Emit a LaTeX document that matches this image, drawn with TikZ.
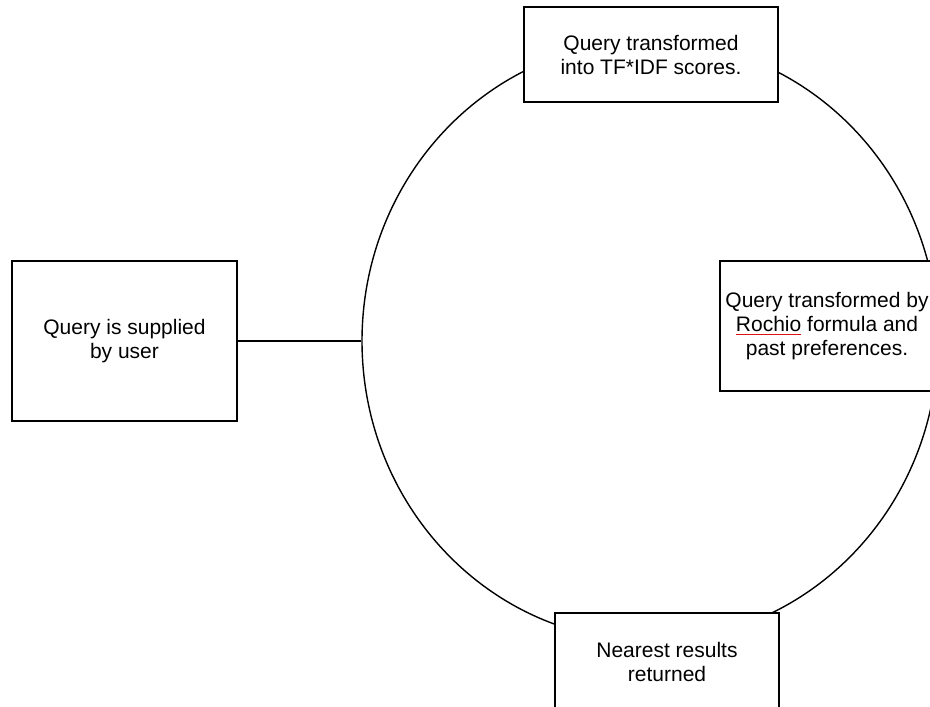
\documentclass[tikz,border=0pt]{standalone}
\usepackage{xcolor}
\usepackage{fontspec}
\setmainfont{Liberation Sans}
\usepackage{tikz}
\usetikzlibrary{shapes.geometric}
\definecolor{bg}{HTML}{FFFFFF}
\definecolor{ink}{HTML}{000000}
\definecolor{squig}{HTML}{E01010}
\tikzset{
  ring/.style={draw=ink, ellipse, line width=0.7pt, inner sep=0pt},
  box/.style={draw=ink, fill=bg, line width=0.7pt, inner sep=0pt, align=center,
    font=\fontsize{10.5}{12}\selectfont},
  link/.style={draw=ink, line width=0.7pt}
}
\newcommand{\spellmark}[1]{{\color{squig}\underline{{\color{ink}#1}}}}

\begin{document}
\begin{tikzpicture}[x=0.5pt,y=-0.5pt]
  \useasboundingbox (0,0) rectangle (930,706);
  \clip (0,0) rectangle (930,706);
  \fill[bg] (0,0) rectangle (930,706);

  \coordinate (C) at (650,341);
  \node[ring, minimum width=288pt, minimum height=300pt] (cycle) at (C) {};

  \node[box, minimum width=127pt, minimum height=47.5pt] (tfidf) at (651,54.5)
    {Query transformed\\into TF*IDF scores.};
  \node[box, minimum width=112.5pt, minimum height=80pt] (user) at (124.5,341)
    {Query is supplied\\by user};
  \node[box, minimum width=107pt, minimum height=65pt] (rochio) at (827,326)
    {Query transformed by\\\spellmark{Rochio} formula and\\past preferences.};
  \node[box, minimum width=112pt, minimum height=48.5pt] (nearest) at (667,661.5)
    {Nearest results\\returned};

  \draw[link] (user.east) -- (cycle.west);
\end{tikzpicture}
\end{document}
